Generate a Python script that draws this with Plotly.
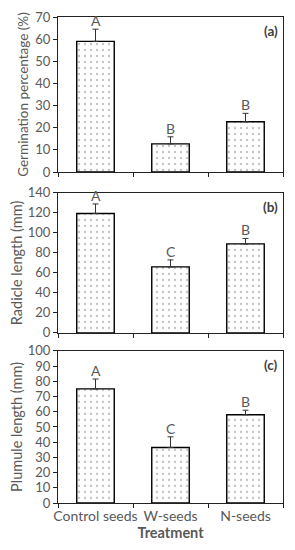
import plotly.graph_objects as go
from plotly.subplots import make_subplots

categories = ["Control seeds", "W-seeds", "N-seeds"]

germ_vals = [59.0, 12.7, 22.7]
germ_err = [5.5, 3.2, 3.8]
germ_letters = ["A", "B", "B"]

rad_vals = [119.5, 66.0, 89.0]
rad_err = [9.5, 7.0, 5.5]
rad_letters = ["A", "C", "B"]

plu_vals = [75.0, 36.5, 58.0]
plu_err = [6.5, 7.0, 3.0]
plu_letters = ["A", "C", "B"]

panels = [
    (germ_vals, germ_err, germ_letters, "Germination percentage (%)", [0, 70], 10, "(a)", 13.5),
    (rad_vals, rad_err, rad_letters, "Radicle length (mm)", [0, 140], 20, "(b)", 14.5),
    (plu_vals, plu_err, plu_letters, "Plumule length (mm)", [0, 100], 10, "(c)", 14.5),
]

FONT = "Lato"
GRAY = "#595959"
YTICK = 13
XTICK = 14
TITLE = 14.5

fig = make_subplots(rows=3, cols=1)

domains = [[0.681, 1.0], [0.350, 0.638], [0.0, 0.313]]

for i, (vals, err, letters, title, rng, dt, tag, tsize) in enumerate(panels):
    r = i + 1
    fig.add_trace(go.Bar(
        x=categories, y=vals, width=0.5,
        marker=dict(color="white", line=dict(color="black", width=1.4),
                    pattern=dict(shape=".", fgcolor="#8a8a8a", bgcolor="white",
                                 size=6, solidity=0.12)),
        error_y=dict(type="data", symmetric=False, array=err,
                     arrayminus=[0] * len(err), color="#333333",
                     thickness=1, width=3),
        showlegend=False,
    ), row=r, col=1)
    for c, v, e, L in zip(categories, vals, err, letters):
        fig.add_annotation(x=c, y=v + e, text=L, showarrow=False,
                           yanchor="bottom", yshift=-2,
                           font=dict(family=FONT, size=14, color=GRAY),
                           xref=f"x{'' if r == 1 else r}", yref=f"y{'' if r == 1 else r}")
    fig.add_annotation(x=0.985, y=domains[i][1], xref="paper", yref="paper",
                       text=f"<b>{tag}</b>", showarrow=False,
                       xanchor="right", yanchor="top", yshift=-4,
                       font=dict(family=FONT, size=13.5, color="#404040"))
    fig.update_yaxes(range=rng, dtick=dt, domain=domains[i], row=r, col=1,
                     automargin=False,
                     showline=True, linecolor="#222222", linewidth=1, mirror=True,
                     ticks="outside", ticklen=4, tickcolor="#222222",
                     showgrid=False, zeroline=False,
                     tickfont=dict(family=FONT, size=YTICK, color=GRAY),
                     title=dict(text=title, standoff=3,
                                font=dict(family=FONT, size=tsize, color=GRAY)))
    fig.update_xaxes(type="category", tickson="boundaries", row=r, col=1,
                     automargin=False,
                     showline=True, linecolor="#222222", linewidth=1, mirror=True,
                     ticks="outside", ticklen=4, tickcolor="#222222", tickangle=0,
                     showgrid=False, showticklabels=(r == 3),
                     tickfont=dict(family=FONT, size=XTICK, color=GRAY))

fig.update_xaxes(title=dict(text="<b>Treatment</b>", standoff=4,
                            font=dict(family=FONT, size=TITLE, color=GRAY)),
                 row=3, col=1)

fig.update_layout(width=287, height=542, plot_bgcolor="white", paper_bgcolor="white",
                  margin=dict(l=50, r=12, t=9, b=47), bargap=0.5)

fig.write_html("out.html")
